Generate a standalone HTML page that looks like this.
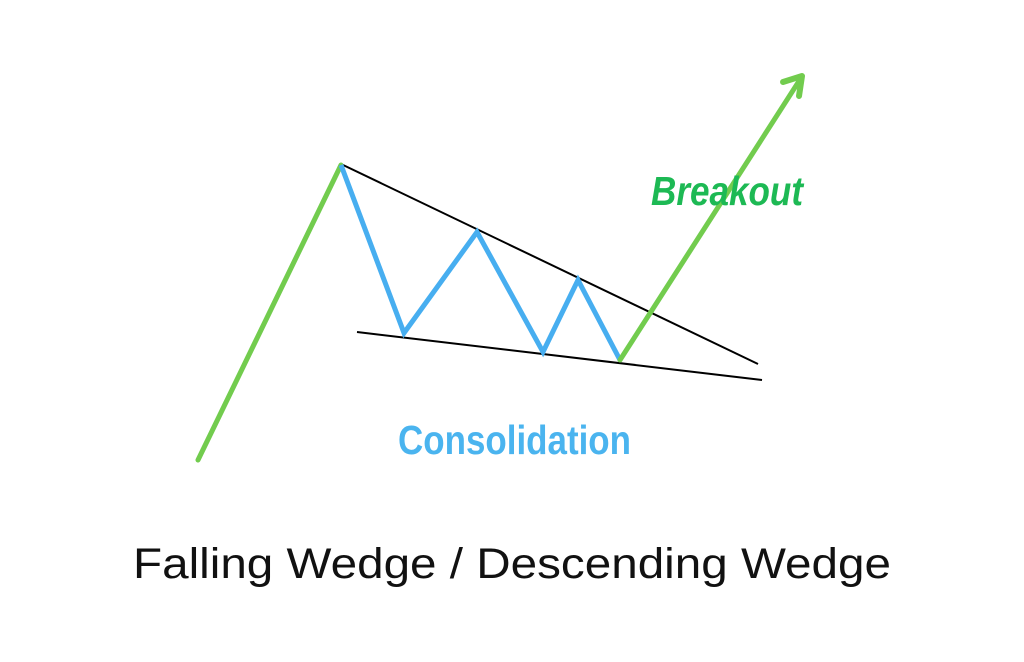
<!DOCTYPE html>
<html><head><meta charset="utf-8"><style>
html,body{margin:0;padding:0;background:#fff;width:1024px;height:662px;overflow:hidden}
</style></head><body>
<svg width="1024" height="662" viewBox="0 0 1024 662" xmlns="http://www.w3.org/2000/svg">
<rect width="1024" height="662" fill="#fff"/>
<line x1="341" y1="164" x2="758" y2="364" stroke="#000" stroke-width="2"/>
<line x1="357" y1="332" x2="762" y2="380" stroke="#000" stroke-width="2"/>
<polyline points="198,460 341,165" fill="none" stroke="#72cc4e" stroke-width="5" stroke-linecap="round"/>
<polyline points="341,165 404,333 477,232 543,352 578,280 620,360" fill="none" stroke="#47aef0" stroke-width="5" stroke-linejoin="miter"/>
<line x1="620" y1="360" x2="801" y2="78" stroke="#72cc4e" stroke-width="5" stroke-linecap="round"/>
<polyline points="783,82 802,76 799,96" fill="none" stroke="#72cc4e" stroke-width="6" stroke-linecap="round" stroke-linejoin="round"/>
<text x="651" y="205" font-family="'Liberation Sans Narrow','Liberation Sans',sans-serif" font-weight="bold" font-style="italic" font-size="41" fill="#1db954" textLength="152" lengthAdjust="spacingAndGlyphs">Breakout</text>
<text x="398" y="454" font-family="'Liberation Sans Narrow','Liberation Sans',sans-serif" font-weight="bold" font-size="41" fill="#4ab4ef" textLength="233" lengthAdjust="spacingAndGlyphs">Consolidation</text>
<text x="133" y="578" font-family="'Liberation Sans',sans-serif" font-size="43" fill="#111" textLength="758" lengthAdjust="spacingAndGlyphs">Falling Wedge / Descending Wedge</text>
</svg>
</body></html>
